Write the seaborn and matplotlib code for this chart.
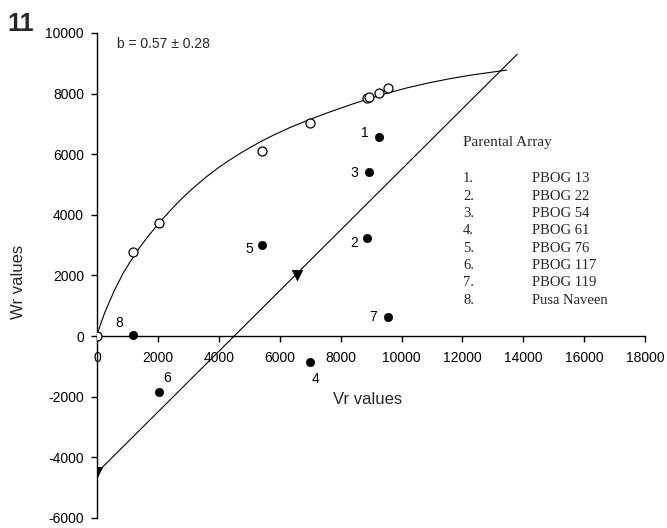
import matplotlib
matplotlib.use("Agg")
import matplotlib.pyplot as plt
import seaborn as sns
import pandas as pd

# ---- data ----
parent_ids = ["1", "2", "3", "4", "5", "6", "7", "8"]
parent_names = ["PBOG 13", "PBOG 22", "PBOG 54", "PBOG 61", "PBOG 76",
                "PBOG 117", "PBOG 119", "Pusa Naveen"]
vr = [9250, 8860, 8920, 7000, 5420, 2040, 9550, 1160]
wr = [6570, 3230, 5420, -850, 3000, -1860, 620, 40]
wri = [8020, 7850, 7890, 7020, 6120, 3740, 8170, 2780]   # open circles (limiting parabola)
origin_vr = [0]
origin_wr = [0]

curve_vr = [0, 50, 145, 250, 418, 600, 855, 1100, 1405, 1700, 2063, 2400,
            2720, 3100, 3598, 4000, 4365, 4800, 5352, 5800, 6339, 6941,
            7600, 8400, 8862, 9600, 10178, 10900, 11602, 12300, 13302, 13450]
curve_wr = [0, 220, 500, 780, 1180, 1580, 2080, 2480, 2938, 3330, 3766, 4143,
            4479, 4841, 5264, 5570, 5818, 6092, 6407, 6635, 6883, 7130,
            7380, 7660, 7812, 8033, 8189, 8355, 8495, 8614, 8754, 8774]

reg_vr = [0, 13800]
reg_wr = [-4500, 9300]
tri_vr = [0, 6550]
tri_wr = [-4500, 2020]

x_ticks = list(range(0, 18001, 2000))
y_ticks = list(range(-6000, 10001, 2000))

# label offsets (pixels) for the numbered points
lab_dx = [-14, -13, -14, 5, -13, 8, -15, -13]
lab_dy = [4, -5, -1, -17, -4, 14, 0, 12]

sns.set_theme(style="white")
plt.rcParams["font.family"] = ["Liberation Sans", "DejaVu Sans"]

W, H = 667, 528
fig = plt.figure(figsize=(W / 100, H / 100), dpi=100)
ax = fig.add_axes([97.3 / W, 1 - 517.8 / H, (645 - 97.3) / W, (517.8 - 33) / H])

pts = pd.DataFrame({"Vr": vr, "Wr": wr, "Wri": wri})
curve = pd.DataFrame({"Vr": curve_vr, "Wr": curve_wr})
reg = pd.DataFrame({"Vr": reg_vr, "Wr": reg_wr})
tri = pd.DataFrame({"Vr": tri_vr, "Wr": tri_wr})
orig = pd.DataFrame({"Vr": origin_vr, "Wr": origin_wr})

line_kw = dict(sort=False, estimator=None, color="black", linewidth=0.8, ax=ax)
sns.lineplot(data=curve, x="Vr", y="Wr", **line_kw)
sns.lineplot(data=reg, x="Vr", y="Wr", **line_kw)

open_kw = dict(marker="o", s=42, facecolor="white", edgecolor="black",
               linewidth=0.9, ax=ax, zorder=5)
sns.scatterplot(data=orig, x="Vr", y="Wr", **open_kw)
sns.scatterplot(data=pts, x="Vr", y="Wri", **open_kw)
sns.scatterplot(data=pts, x="Vr", y="Wr", marker="o", s=36, color="black",
                edgecolor="black", ax=ax, zorder=5)
sns.scatterplot(data=tri, x="Vr", y="Wr", marker="v", s=55, color="black",
                edgecolor="black", ax=ax, zorder=5)

for i, lab in enumerate(parent_ids):
    ax.annotate(lab, (vr[i], wr[i]), xytext=(lab_dx[i] * 0.72, lab_dy[i] * 0.72),
                textcoords="offset points", ha="center", va="center",
                fontsize=10, color="black")

ax.set_xlim(0, 18000)
ax.set_ylim(-6000, 10000)
ax.set_xticks(x_ticks)
ax.set_yticks(y_ticks)
ax.set_xticklabels([str(t) for t in x_ticks])
ax.set_yticklabels([str(t) for t in y_ticks])
ax.spines["left"].set_position(("data", 0))
ax.spines["bottom"].set_position(("data", 0))
for s in ["top", "right"]:
    ax.spines[s].set_visible(False)
for s in ["left", "bottom"]:
    ax.spines[s].set_color("black")
    ax.spines[s].set_linewidth(1.0)
ax.tick_params(axis="both", direction="out", length=4.5, width=1.0,
               colors="black", labelsize=10)
ax.tick_params(axis="x", pad=6.5, bottom=True)
ax.tick_params(axis="y", pad=5, left=True)
ax.set_xlabel("")
ax.set_ylabel("")
ax.patch.set_alpha(0)

# axis titles
fig.text(333 / W, 1 - 400 / H, "Vr values", ha="left", va="center", fontsize=12)
fig.text(19 / W, 1 - 282 / H, "Wr values", ha="center", va="center",
         rotation=90, fontsize=12)
# panel number and regression coefficient
fig.text(7 / W, 1 - 24 / H, "11", ha="left", va="center", fontsize=18,
         fontweight="bold")
fig.text(117 / W, 1 - 44 / H, "b = 0.57 \u00b1 0.28", ha="left", va="center",
         fontsize=10)

# parental array key
serif = ["Liberation Serif", "DejaVu Serif"]
fig.text(463 / W, 1 - 143 / H, "Parental Array", ha="left", va="center",
         fontsize=11, family=serif)
for i, name in enumerate(parent_names):
    y = 179 + i * 17.3
    fig.text(463 / W, 1 - y / H, f"{i + 1}.", ha="left", va="center",
             fontsize=10.5, family=serif)
    fig.text(532 / W, 1 - y / H, name, ha="left", va="center",
             fontsize=10.5, family=serif)

fig.savefig("out.png", dpi=100, facecolor="white")
